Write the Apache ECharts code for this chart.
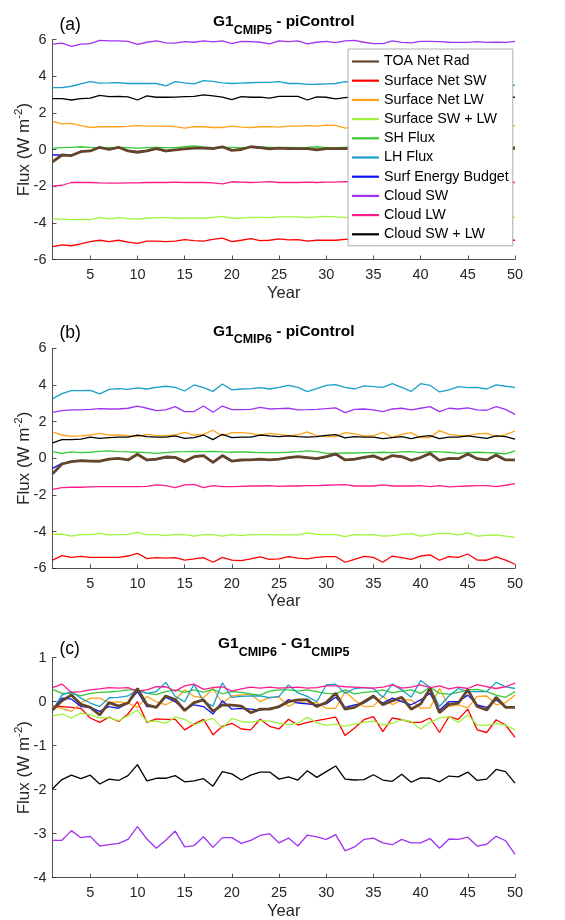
<!DOCTYPE html>
<html><head><meta charset="utf-8">
<script src="https://cdn.jsdelivr.net/npm/echarts@6/dist/echarts.min.js"></script>
<style>html,body{margin:0;padding:0;background:#fff}#c{width:565px;height:920px}</style>
</head><body><div id="c"></div><script>
const years = [1,2,3,4,5,6,7,8,9,10,11,12,13,14,15,16,17,18,19,20,21,22,23,24,25,26,27,28,29,30,31,32,33,34,35,36,37,38,39,40,41,42,43,44,45,46,47,48,49,50];
const xTicks = [5,10,15,20,25,30,35,40,45,50];
const seriesNames = ['TOA Net Rad','Surface Net SW','Surface Net LW','Surface SW + LW','SH Flux','LH Flux','Surf Energy Budget','Cloud SW','Cloud LW','Cloud SW + LW'];
const seriesColors = ['#654529','#ff0000','#ffa31a','#9cf53b','#36c936','#1a9fc9','#0a14ff','#a033f2','#ff1a8c','#000000'];
const panelTitles = [['G1','CMIP5',' - piControl',''],['G1','CMIP6',' - piControl',''],['G1','CMIP6',' - G1','CMIP5']];
const panelLetters = ['(a)','(b)','(c)'];

// Panel (a): G1 CMIP5 - piControl
const a_toa = [-0.68,-0.3,-0.33,-0.12,-0.08,0.12,0.0,0.12,-0.08,-0.15,-0.07,0.05,-0.08,-0.02,0.03,0.08,0.08,0.05,0.15,-0.05,0.0,0.15,0.1,0.03,0.08,0.05,0.05,0.05,-0.02,0.05,0.05,0.05,0.08,0.02,0.06,0.1,0.04,0.07,0.03,0.08,0.05,0.1,0.02,0.06,0.08,0.04,0.07,0.05,0.08,0.05];
const a_sfcsw = [-5.3,-5.2,-5.25,-5.15,-5.03,-4.95,-5.03,-4.95,-5.05,-5.12,-5.0,-5.0,-5.02,-5.0,-4.92,-4.97,-5.0,-4.9,-4.83,-5.03,-4.95,-4.86,-4.97,-4.95,-4.88,-4.93,-4.92,-5.0,-4.95,-4.95,-4.95,-4.9,-4.85,-4.92,-4.95,-4.9,-4.88,-4.95,-4.92,-4.9,-4.95,-4.9,-4.93,-4.88,-4.92,-4.95,-4.9,-4.92,-4.95,-4.95];
const a_sfclw = [1.53,1.4,1.42,1.3,1.2,1.25,1.24,1.24,1.26,1.3,1.27,1.28,1.28,1.25,1.17,1.25,1.24,1.2,1.2,1.28,1.22,1.2,1.24,1.25,1.22,1.28,1.28,1.3,1.28,1.33,1.32,1.17,1.25,1.27,1.24,1.28,1.22,1.26,1.3,1.25,1.27,1.22,1.28,1.25,1.26,1.3,1.24,1.27,1.28,1.3];
const a_sfcnet = [-3.8,-3.8,-3.83,-3.83,-3.82,-3.7,-3.78,-3.72,-3.77,-3.8,-3.75,-3.72,-3.72,-3.75,-3.74,-3.73,-3.75,-3.7,-3.65,-3.75,-3.74,-3.7,-3.7,-3.72,-3.68,-3.68,-3.67,-3.72,-3.68,-3.65,-3.68,-3.7,-3.68,-3.7,-3.72,-3.66,-3.7,-3.68,-3.72,-3.7,-3.67,-3.7,-3.68,-3.72,-3.7,-3.68,-3.7,-3.67,-3.7,-3.7];
const a_sh = [0.08,0.1,0.12,0.15,0.12,0.1,0.1,0.12,0.1,0.08,0.1,0.12,0.1,0.1,0.15,0.2,0.14,0.1,0.12,0.12,0.1,0.12,0.14,0.12,0.1,0.12,0.1,0.12,0.15,0.1,0.1,0.12,0.12,0.1,0.14,0.12,0.1,0.13,0.12,0.1,0.12,0.14,0.11,0.12,0.1,0.13,0.12,0.1,0.12,0.15];
const a_lh = [3.38,3.38,3.45,3.58,3.7,3.62,3.63,3.65,3.6,3.6,3.6,3.6,3.47,3.7,3.63,3.58,3.76,3.72,3.63,3.6,3.62,3.64,3.66,3.66,3.7,3.6,3.6,3.55,3.56,3.58,3.6,3.7,3.62,3.6,3.58,3.62,3.6,3.56,3.6,3.62,3.58,3.6,3.55,3.58,3.6,3.56,3.58,3.55,3.56,3.5];
const a_seb = [-0.3,-0.3,-0.3,-0.1,-0.07,0.1,0.02,0.1,-0.05,-0.12,-0.05,0.05,-0.12,-0.02,0.03,0.07,0.1,0.06,0.12,-0.03,0.02,0.13,0.08,0.04,0.07,0.05,0.05,0.06,0.0,0.05,0.04,0.06,0.07,0.03,0.06,0.08,0.05,0.06,0.04,0.07,0.05,0.08,0.03,0.05,0.07,0.05,0.06,0.05,0.07,0.06];
const a_cldsw = [5.75,5.8,5.62,5.75,5.78,5.95,5.93,5.92,5.9,5.73,5.85,5.93,5.82,5.8,5.88,5.85,5.93,5.87,5.93,5.77,5.9,5.88,5.85,5.76,5.93,5.88,5.93,5.76,5.85,5.9,5.83,5.92,5.95,5.85,5.78,5.78,5.92,5.84,5.82,5.9,5.9,5.88,5.85,5.84,5.84,5.88,5.84,5.85,5.84,5.9];
const a_cldlw = [-2.0,-1.95,-1.8,-1.8,-1.8,-1.82,-1.83,-1.83,-1.82,-1.82,-1.8,-1.8,-1.8,-1.78,-1.8,-1.8,-1.8,-1.82,-1.88,-1.76,-1.78,-1.8,-1.78,-1.75,-1.8,-1.8,-1.8,-1.78,-1.8,-1.78,-1.78,-1.75,-1.78,-1.8,-1.77,-1.8,-1.78,-1.76,-1.8,-1.78,-1.8,-1.77,-1.78,-1.8,-1.76,-1.78,-1.8,-1.78,-1.77,-1.8];
const a_cldnet = [2.78,2.78,2.7,2.78,2.8,2.95,2.88,2.9,2.87,2.7,2.93,2.85,2.85,2.86,2.88,2.9,2.98,2.93,2.86,2.72,2.88,2.85,2.86,2.8,2.9,2.9,2.9,2.7,2.87,2.85,2.76,2.83,2.88,2.85,2.82,2.88,2.84,2.86,2.8,2.87,2.85,2.83,2.88,2.85,2.82,2.86,2.84,2.88,2.85,2.85];

// Panel (b): G1 CMIP6 - piControl
const b_toa = [-0.85,-0.31,-0.18,-0.13,-0.15,-0.16,-0.04,0.0,-0.09,0.22,-0.09,-0.05,0.07,0.05,-0.18,0.09,0.15,-0.22,0.15,-0.15,-0.09,-0.09,-0.05,-0.09,-0.04,0.04,0.09,0.04,-0.02,0.09,0.24,-0.09,-0.05,0.05,0.13,-0.07,0.15,0.09,-0.11,0.04,0.27,-0.11,0.0,-0.02,0.24,-0.02,-0.09,0.18,-0.09,-0.09];
const b_sfcsw = [-5.55,-5.31,-5.4,-5.35,-5.4,-5.4,-5.4,-5.4,-5.33,-5.18,-5.47,-5.42,-5.44,-5.42,-5.55,-5.49,-5.42,-5.67,-5.4,-5.55,-5.58,-5.49,-5.38,-5.51,-5.49,-5.36,-5.45,-5.49,-5.4,-5.36,-5.36,-5.67,-5.51,-5.35,-5.4,-5.67,-5.33,-5.42,-5.51,-5.33,-5.27,-5.56,-5.36,-5.4,-5.22,-5.55,-5.56,-5.38,-5.55,-5.78];
const b_sfclw = [1.44,1.27,1.2,1.22,1.27,1.36,1.27,1.27,1.24,1.18,1.31,1.24,1.24,1.27,1.42,1.27,1.31,1.53,1.22,1.4,1.4,1.36,1.27,1.36,1.31,1.24,1.27,1.44,1.22,1.18,1.18,1.4,1.33,1.22,1.22,1.42,1.15,1.31,1.4,1.13,1.13,1.51,1.31,1.24,1.24,1.33,1.36,1.18,1.29,1.49];
const b_sfcnet = [-4.15,-4.13,-4.24,-4.16,-4.16,-4.09,-4.18,-4.16,-4.15,-4.04,-4.16,-4.16,-4.22,-4.15,-4.16,-4.24,-4.16,-4.16,-4.25,-4.16,-4.22,-4.16,-4.16,-4.16,-4.18,-4.18,-4.18,-4.07,-4.15,-4.16,-4.16,-4.27,-4.16,-4.18,-4.16,-4.25,-4.22,-4.15,-4.11,-4.24,-4.16,-4.09,-4.09,-4.18,-4.07,-4.24,-4.2,-4.18,-4.24,-4.31];
const b_sh = [0.36,0.27,0.35,0.31,0.33,0.38,0.4,0.36,0.35,0.33,0.31,0.27,0.31,0.35,0.36,0.38,0.36,0.38,0.35,0.33,0.35,0.33,0.31,0.31,0.31,0.33,0.36,0.4,0.36,0.27,0.27,0.29,0.29,0.31,0.31,0.33,0.31,0.35,0.36,0.31,0.36,0.35,0.33,0.27,0.31,0.33,0.31,0.29,0.24,0.4];
const b_lh = [3.24,3.53,3.69,3.69,3.71,3.51,3.76,3.8,3.76,3.84,3.78,3.87,3.93,3.87,3.67,4.0,3.85,3.65,4.05,3.73,3.78,3.8,3.85,3.78,3.87,3.98,3.87,3.64,3.8,3.98,4.02,3.87,3.78,3.95,3.91,3.87,4.07,3.87,3.65,4.07,3.98,3.62,3.73,3.91,3.85,3.87,3.78,4.0,3.93,3.87];
const b_seb = [-0.55,-0.28,-0.2,-0.15,-0.16,-0.17,-0.06,-0.02,-0.1,0.18,-0.12,-0.07,0.04,0.03,-0.2,0.06,0.12,-0.24,0.12,-0.17,-0.12,-0.1,-0.07,-0.11,-0.06,0.02,0.06,0.02,-0.04,0.06,0.2,-0.11,-0.07,0.03,0.1,-0.09,0.12,0.07,-0.13,0.02,0.24,-0.13,-0.02,-0.04,0.2,-0.04,-0.11,0.15,-0.11,-0.11];
const b_cldsw = [2.51,2.6,2.64,2.64,2.67,2.71,2.69,2.69,2.73,2.85,2.73,2.6,2.64,2.82,2.55,2.55,2.85,2.51,2.85,2.65,2.65,2.67,2.78,2.69,2.71,2.73,2.64,2.65,2.67,2.71,2.75,2.49,2.67,2.69,2.64,2.55,2.69,2.73,2.64,2.73,2.82,2.55,2.73,2.69,2.75,2.64,2.62,2.82,2.67,2.4];
const b_cldlw = [-1.69,-1.6,-1.58,-1.58,-1.56,-1.55,-1.55,-1.55,-1.55,-1.55,-1.53,-1.45,-1.49,-1.6,-1.45,-1.42,-1.6,-1.49,-1.55,-1.55,-1.53,-1.51,-1.51,-1.49,-1.53,-1.51,-1.51,-1.49,-1.49,-1.47,-1.45,-1.44,-1.51,-1.51,-1.51,-1.45,-1.51,-1.51,-1.51,-1.49,-1.55,-1.49,-1.56,-1.53,-1.51,-1.49,-1.49,-1.55,-1.47,-1.38];
const b_cldnet = [0.84,1.02,1.02,1.05,1.15,1.09,1.13,1.15,1.16,1.27,1.18,1.15,1.15,1.22,1.09,1.13,1.27,1.02,1.31,1.13,1.15,1.16,1.27,1.22,1.18,1.22,1.18,1.16,1.18,1.25,1.29,1.11,1.18,1.16,1.15,1.07,1.13,1.18,1.07,1.18,1.24,1.07,1.15,1.15,1.22,1.15,1.09,1.22,1.18,1.04];

// Panel (c): G1 CMIP6 - G1 CMIP5
const c_toa = [-0.19,0.02,0.15,-0.06,-0.13,-0.3,-0.02,-0.1,-0.03,0.3,-0.07,-0.13,0.13,0.05,-0.2,-0.02,0.04,-0.22,-0.07,-0.08,-0.1,-0.25,-0.17,-0.17,-0.11,0.0,0.04,0.04,-0.11,-0.02,0.19,-0.17,-0.13,0.0,0.13,-0.07,0.02,0.1,-0.17,-0.05,0.3,-0.25,-0.06,-0.03,0.27,-0.11,-0.19,0.1,-0.13,-0.13];
const c_sfcsw = [-0.1,-0.11,-0.13,-0.15,-0.37,-0.47,-0.35,-0.45,-0.28,0.0,-0.47,-0.39,-0.4,-0.4,-0.64,-0.51,-0.4,-0.75,-0.56,-0.49,-0.62,-0.64,-0.4,-0.56,-0.62,-0.4,-0.53,-0.47,-0.43,-0.39,-0.35,-0.77,-0.6,-0.41,-0.34,-0.68,-0.37,-0.41,-0.47,-0.47,-0.37,-0.7,-0.34,-0.4,-0.17,-0.64,-0.7,-0.41,-0.53,-0.81];
const c_sfclw = [-0.11,-0.15,-0.22,-0.03,0.08,0.08,-0.02,0.0,-0.03,-0.13,0.12,0.0,-0.07,0.04,0.27,0.12,0.09,0.3,-0.03,0.13,0.15,0.17,0.0,0.1,0.1,-0.11,0.0,-0.03,-0.02,-0.15,-0.15,0.23,0.04,-0.11,-0.1,0.13,-0.07,0.04,0.04,-0.15,-0.14,0.3,-0.11,-0.07,-0.14,0.12,0.13,-0.07,-0.02,0.15];
const c_sfcnet = [-0.32,-0.28,-0.37,-0.26,-0.3,-0.37,-0.36,-0.43,-0.32,-0.19,-0.45,-0.44,-0.49,-0.35,-0.4,-0.53,-0.44,-0.38,-0.6,-0.38,-0.45,-0.47,-0.43,-0.44,-0.49,-0.52,-0.49,-0.35,-0.48,-0.54,-0.51,-0.56,-0.51,-0.47,-0.44,-0.53,-0.49,-0.41,-0.45,-0.62,-0.47,-0.37,-0.34,-0.47,-0.3,-0.53,-0.54,-0.49,-0.53,-0.64];
const c_sh = [0.28,0.19,0.19,0.13,0.19,0.21,0.22,0.24,0.27,0.27,0.19,0.16,0.23,0.27,0.21,0.27,0.22,0.28,0.18,0.23,0.21,0.18,0.15,0.24,0.27,0.27,0.24,0.27,0.23,0.19,0.18,0.27,0.18,0.21,0.23,0.27,0.2,0.24,0.27,0.19,0.33,0.19,0.17,0.21,0.27,0.28,0.23,0.15,0.1,0.23];
const c_lh = [-0.19,0.15,0.23,0.08,-0.03,-0.11,0.09,0.1,0.13,0.27,0.19,0.23,0.44,0.12,0.0,0.4,0.0,-0.1,0.43,0.1,0.12,0.13,0.13,0.09,0.12,0.38,0.2,0.12,0.0,0.38,0.4,0.19,0.3,0.32,0.3,0.1,0.4,0.27,0.1,0.48,0.33,-0.11,0.13,0.3,0.23,0.23,0.23,0.44,0.34,0.3];
const c_seb = [-0.19,0.08,0.06,-0.11,-0.13,-0.22,-0.11,-0.15,-0.03,0.23,-0.11,-0.11,0.1,0.0,-0.17,-0.07,-0.11,-0.28,0.02,-0.17,-0.15,-0.17,-0.19,-0.15,-0.13,0.05,-0.03,-0.05,-0.07,-0.05,0.1,-0.13,-0.07,-0.03,0.1,-0.03,0.08,0.0,-0.07,0.04,0.19,-0.19,0.0,0.0,0.15,-0.07,-0.13,0.04,-0.11,-0.11];
const c_cldsw = [-3.15,-3.15,-2.93,-3.09,-3.06,-3.28,-3.25,-3.22,-3.13,-2.84,-3.12,-3.33,-3.15,-2.94,-3.3,-3.27,-3.07,-3.31,-3.09,-3.09,-3.22,-3.15,-3.04,-3.0,-3.21,-3.1,-3.28,-3.03,-3.07,-3.13,-3.02,-3.39,-3.3,-3.13,-3.1,-3.21,-3.25,-3.13,-3.21,-3.21,-3.11,-3.33,-3.12,-3.13,-3.08,-3.28,-3.24,-3.06,-3.16,-3.47];
const c_cldlw = [0.32,0.4,0.21,0.23,0.27,0.29,0.32,0.31,0.32,0.24,0.27,0.34,0.34,0.24,0.36,0.4,0.28,0.32,0.34,0.24,0.29,0.33,0.31,0.33,0.31,0.32,0.33,0.31,0.32,0.36,0.36,0.34,0.33,0.32,0.31,0.33,0.38,0.31,0.33,0.38,0.32,0.36,0.29,0.33,0.3,0.39,0.34,0.3,0.34,0.42];
const c_cldnet = [-1.98,-1.77,-1.67,-1.75,-1.67,-1.87,-1.76,-1.79,-1.68,-1.43,-1.8,-1.74,-1.74,-1.68,-1.82,-1.8,-1.75,-1.92,-1.59,-1.64,-1.78,-1.67,-1.6,-1.6,-1.76,-1.71,-1.78,-1.57,-1.72,-1.59,-1.46,-1.76,-1.78,-1.77,-1.66,-1.78,-1.81,-1.65,-1.83,-1.73,-1.74,-1.82,-1.69,-1.71,-1.6,-1.79,-1.76,-1.54,-1.59,-1.85];

const panels = [
  [a_toa,a_sfcsw,a_sfclw,a_sfcnet,a_sh,a_lh,a_seb,a_cldsw,a_cldlw,a_cldnet],
  [b_toa,b_sfcsw,b_sfclw,b_sfcnet,b_sh,b_lh,b_seb,b_cldsw,b_cldlw,b_cldnet],
  [c_toa,c_sfcsw,c_sfclw,c_sfcnet,c_sh,c_lh,c_seb,c_cldsw,c_cldlw,c_cldnet]
];
const yRanges = [[-6,6,2],[-6,6,2],[-4,1,1]];

const FONT = 'Liberation Sans, Arial, Helvetica, sans-serif';
const INK = '#262626';
const gridTops = [39.5, 348.3, 657.7];
const gridH = 220;
const plotLeft = 52.5, plotW = 462.5;

const chart = echarts.init(document.getElementById('c'), null, {renderer:'canvas'});
const grids = [], xAxes = [], yAxes = [], series = [], graphics = [];
const drawOrder = [1,2,3,4,5,6,7,8,9,0];
panels.forEach((pdata, p) => {
  grids.push({left: plotLeft, top: gridTops[p], width: plotW, height: gridH, containLabel:false, outerBoundsMode:'none'});
  xAxes.push({
    type:'value', gridIndex:p, min:1, max:50,
    name:'Year', nameLocation:'middle', nameGap:25, nameMoveOverlap:false,
    nameTextStyle:{fontFamily:FONT, fontSize:16.5, color:INK},
    axisLine:{show:true, onZero:false, lineStyle:{color:INK, width:0.8}},
    axisTick:{show:true, inside:true, length:4, customValues:xTicks, lineStyle:{color:INK, width:0.8}},
    axisLabel:{customValues:xTicks, fontFamily:FONT, fontSize:14.5, color:INK, margin:8},
    splitLine:{show:false}
  });
  yAxes.push({
    type:'value', gridIndex:p, min:yRanges[p][0], max:yRanges[p][1], interval:yRanges[p][2],
    name:'{n|Flux (W m}{s|-2}{n|)}', nameLocation:'middle', nameGap:20, nameMoveOverlap:false,
    nameTextStyle:{fontFamily:FONT, color:INK, rich:{
      n:{fontFamily:FONT, fontSize:17, color:INK, lineHeight:18, verticalAlign:'bottom'},
      s:{fontFamily:FONT, fontSize:11.5, color:INK, lineHeight:11, verticalAlign:'bottom', padding:[0,0,8,0]}
    }},
    axisLine:{show:true, onZero:false, lineStyle:{color:INK, width:0.8}},
    axisTick:{show:true, inside:true, length:4, lineStyle:{color:INK, width:0.8}},
    axisLabel:{fontFamily:FONT, fontSize:14.5, color:INK, margin:6},
    splitLine:{show:false}
  });
  drawOrder.forEach((k, j) => {
    const vals = pdata[k];
    series.push({
      type:'line', name:seriesNames[k], xAxisIndex:p, yAxisIndex:p,
      data: years.map((yr, i) => [yr, vals[i]]),
      showSymbol:false, symbol:'none', silent:true,
      color: seriesColors[k],
      lineStyle:{color:seriesColors[k], width: k===0 ? 2.8 : 1.3},
      z: 2 + j*0.01 + (k===0 ? 1 : 0),
      animation:false
    });
  });
  const t = panelTitles[p];
  const txt = '{m|' + t[0] + '}{s|' + t[1] + '}{m|' + t[2] + '}' + (t[3] ? '{s|' + t[3] + '}' : '');
  const titleY = [22, 331.3, 643.7][p];
  graphics.push({
    type:'text', x: plotLeft + plotW/2, y: titleY, z: 10,
    style:{text: txt, align:'center', verticalAlign:'middle', rich:{
      m:{fontFamily:FONT, fontSize:15.5, fontWeight:'bold', fill:'#000', color:'#000', lineHeight:16, verticalAlign:'top'},
      s:{fontFamily:FONT, fontSize:12.5, fontWeight:'bold', fill:'#000', color:'#000', lineHeight:12, verticalAlign:'top', padding:[10,0,0,0]}
    }}
  });
  const letterY = [25, 333.3, 649.3][p];
  graphics.push({
    type:'text', x: 59.5, y: letterY, z: 10,
    style:{text: panelLetters[p], fontFamily:FONT, fontSize:17.5, fill:'#000', align:'left', verticalAlign:'middle'}
  });
});

chart.setOption({
  animation:false,
  backgroundColor:'#fff',
  grid: grids, xAxis: xAxes, yAxis: yAxes, series: series,
  legend:{
    data: seriesNames, orient:'vertical', left:348, top:49,
    padding:[4,4,3,4], itemWidth:27, itemHeight:2.2, itemGap:2.2, icon:'rect',
    textStyle:{fontFamily:FONT, fontSize:14.3, color:'#000', lineHeight:17},
    backgroundColor:'#fff', borderColor:'#999', borderWidth:0.8, borderRadius:0,
    selectedMode:false, z:20
  },
  graphic: graphics
});
</script></body></html>
